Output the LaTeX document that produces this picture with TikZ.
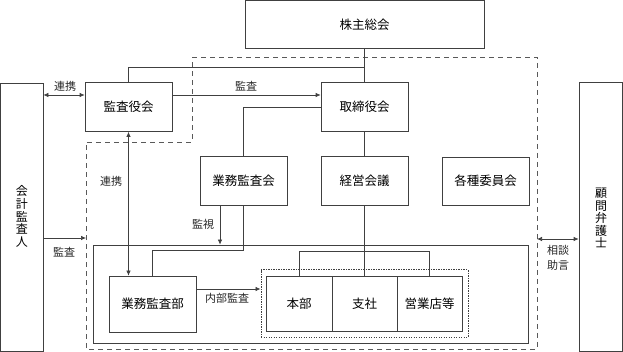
\documentclass[tikz,border=0pt]{standalone}
\usepackage{fontspec}
\setmainfont{Noto Sans CJK JP}
\usetikzlibrary{arrows.meta}
\begin{document}
\begin{tikzpicture}[x=1pt,y=-1pt,
  ln/.style={draw=black!75, line width=0.7pt},
  box/.style={ln, inner sep=0pt, font=\fontsize{12.5}{14}\selectfont, minimum width=87pt, minimum height=49pt},
  lbl/.style={inner sep=0pt, font=\fontsize{11}{12}\selectfont, text=black!85},
  vtext/.style={inner sep=0pt, align=center, font=\fontsize{12}{12.6}\selectfont},
  arr/.style={ln, -{Latex[length=5pt,width=4.5pt]}},
  dbl/.style={ln, {Latex[length=5pt,width=4.5pt]}-{Latex[length=5pt,width=4.5pt]}},
  dashline/.style={draw=black!65, line width=0.8pt, dash pattern=on 5pt off 4pt},
  dotline/.style={draw=black!75, line width=1pt, dash pattern=on 1.2pt off 1.3pt}
]
\useasboundingbox (0,0) rectangle (623,352);

% outer dashed region
\draw[dashline] (192,57) -- (537,57) -- (537,349) -- (86,349) -- (86,142) -- (192,142) -- cycle;
\coordinate (dR) at (537,239);
\coordinate (dL) at (86,238);

% main boxes
\node[box, minimum width=239pt, minimum height=48pt] (kabu) at (364.5,24.5) {株主総会};
\node[box] (kansa) at (128.5,107) {監査役会};
\node[box] (tori) at (364.5,107) {取締役会};
\node[box] (gkai) at (243.5,180.5) {業務監査会};
\node[box] (keiei) at (364.5,180.5) {経営会議};
\node[box, minimum height=48pt] (kakushu) at (485.5,181) {各種委員会};

% side boxes
\node[box, minimum width=42.5pt, minimum height=268pt] (kaikei) at (21.75,217) {};
\node[vtext] at (22,216.5) {会\\計\\監\\査\\人};
\node[box, minimum width=43.5pt, minimum height=269pt] (komon) at (600.75,216.5) {};
\node[vtext] at (601,218) {顧\\問\\弁\\護\\士};

% inner solid region
\node[ln, inner sep=0pt, minimum width=435pt, minimum height=98pt] (inner) at (310.5,294) {};
\node[box, minimum height=56pt] (gbu) at (152.5,304) {業務監査部};
\node[dotline, inner sep=0pt, minimum width=207pt, minimum height=67pt] (dotbox) at (364.5,303.5) {};
\node[box, minimum width=66pt, minimum height=55pt] (honbu) at (299,303.5) {本部};
\node[box, minimum width=65pt, minimum height=55pt] (shisha) at (364.5,303.5) {支社};
\node[box, minimum width=65pt, minimum height=55pt] (eigyo) at (429.5,303.5) {営業店等};

% connectors
\coordinate (j1) at (364.5,67);
\draw[ln] (kabu.south) -- (tori.north);
\draw[ln] (j1) -| (kansa.north);

\coordinate (y95) at (0,95);
\draw[dbl] (kaikei.east |- y95) -- (kansa.west |- y95);
\node[lbl] (l1) at (65,86) {連携};
\draw[arr] (kansa.east |- y95) -- (tori.west |- y95);
\node[lbl] (l2) at (246,86) {監査};

\draw[ln] (tori.west) -| (gkai.north);
\draw[ln] (tori.south) -- (keiei.north);
\draw[ln] (keiei.south) -- (shisha.north);

\coordinate (x220) at (220,0);
\draw[arr] (gkai.south -| x220) -- (inner.north -| x220);
\node[lbl] (l3) at (203,224) {監視};
\coordinate (j2) at (243.5,250);
\draw[ln] (gkai.south) -- (j2) -| (gbu.north);

\coordinate (x128) at (128.5,0);
\draw[dbl] (kansa.south) -- (gbu.north -| x128);
\node[lbl] (l4) at (111,181) {連携};

\coordinate (y238) at (0,238);
\draw[arr] (kaikei.east |- y238) -- (dL);
\node[lbl] (l5) at (64,252) {監査};

\coordinate (y289) at (0,289);
\draw[arr] (gbu.east |- y289) -- (dotbox.west |- y289);
\node[lbl] (l6) at (227,298) {内部監査};

\coordinate (j3) at (299,251);
\draw[ln] (honbu.north) -- (j3) -| (eigyo.north);

\draw[dbl] (dR) -- (komon.west |- dR);
\node[lbl, align=center, font=\fontsize{11}{15}\selectfont] (l7) at (558,257.5) {相談\\助言};
\end{tikzpicture}
\end{document}
